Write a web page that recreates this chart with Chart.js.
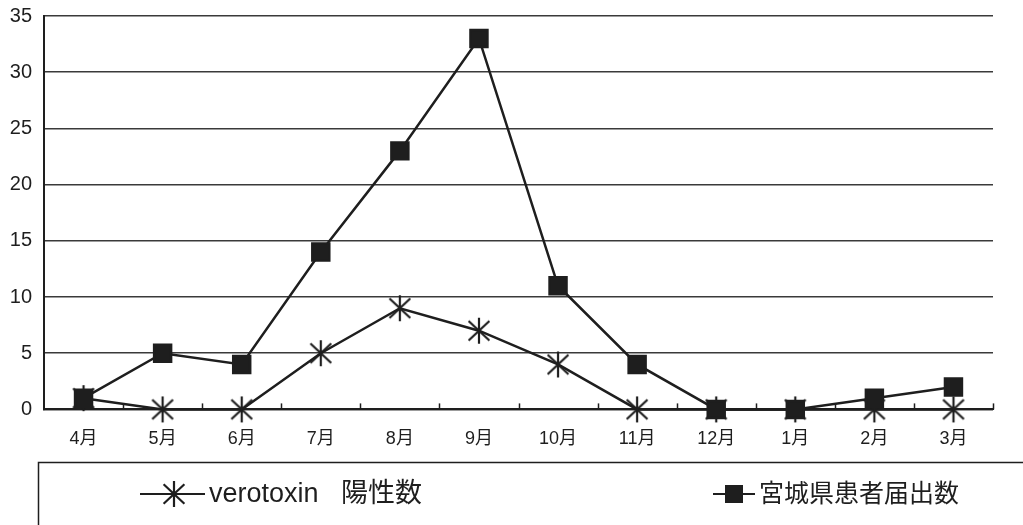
<!DOCTYPE html>
<html>
<head>
<meta charset="utf-8">
<script src="https://cdn.jsdelivr.net/npm/chart.js@4/dist/chart.umd.min.js"></script>
<style>
  html, body { margin: 0; padding: 0; background: #fff; }
  #wrap { position: relative; width: 1023px; height: 525px; }
</style>
</head>
<body>
<div id="wrap"><canvas id="chart" width="1023" height="525"></canvas></div>
<script>
const months = ["4月", "5月", "6月", "7月", "8月", "9月", "10月", "11月", "12月", "1月", "2月", "3月"];
const verotoxin = [1, 0, 0, 5, 9, 7, 4, 0, 0, 0, 0, 0];
const patients = [1, 5, 4, 14, 23, 33, 11, 4, 0, 0, 1, 2];
const seriesNames = ["verotoxin   陽性数", "宮城県患者届出数"];
const yTicks = [0, 5, 10, 15, 20, 25, 30, 35];

const ink = "#1e1e1e";
const fontFam = "'Liberation Sans', 'Noto Sans CJK JP', sans-serif";

// 6本のスポークのアスタリスク
function makeStar(size) {
    const c = document.createElement("canvas");
    c.width = size; c.height = size;
    const g = c.getContext("2d");
    const m = size / 2, r = size / 2 - 1;
    g.strokeStyle = ink;
    g.lineWidth = 2.2;
    g.beginPath();
    g.moveTo(m, m - r); g.lineTo(m, m + r);
    const dx = r * 0.8, dy = r * 0.75;
    g.moveTo(m - dx, m - dy); g.lineTo(m + dx, m + dy);
    g.moveTo(m + dx, m - dy); g.lineTo(m - dx, m + dy);
    g.stroke();
    return c;
}
const starImg = makeStar(28);

// x軸の上向き目盛りと凡例の枠
const extras = {
    id: "extras",
    afterDraw(chart) {
        const { ctx, chartArea: a } = chart;
        ctx.save();
        ctx.strokeStyle = ink;
        ctx.lineWidth = 1.5;
        const step = (a.right - a.left) / months.length;
        for (let i = 1; i <= months.length; i++) {
            const px = Math.round(a.left + step * i) + 0.5;
            ctx.beginPath();
            ctx.moveTo(px, a.bottom);
            ctx.lineTo(px, a.bottom - 6);
            ctx.stroke();
        }
        // legend box
        ctx.strokeRect(38.5, 462.5, 1000, 80);
        ctx.font = "27px " + fontFam;
        ctx.fillStyle = ink;
        ctx.textBaseline = "middle";
        const ly = 494;
        ctx.lineWidth = 2;
        ctx.beginPath(); ctx.moveTo(140, ly); ctx.lineTo(205, ly); ctx.stroke();
        ctx.drawImage(starImg, 160, ly - 14);
        ctx.fillText(seriesNames[0], 209, ly + 1);
        ctx.beginPath(); ctx.moveTo(713, ly); ctx.lineTo(755, ly); ctx.stroke();
        ctx.fillRect(725, ly - 9, 18, 18);
        ctx.font = "25px " + fontFam;
        ctx.fillText(seriesNames[1], 759, ly + 1);
        ctx.restore();
    }
};

new Chart(document.getElementById("chart"), {
    type: "line",
    data: {
        labels: months,
        datasets: [
            {
                label: seriesNames[0],
                data: verotoxin,
                borderColor: ink,
                borderWidth: 2.5,
                pointStyle: starImg,
                clip: false,
                order: 1
            },
            {
                label: seriesNames[1],
                data: patients,
                borderColor: ink,
                backgroundColor: ink,
                borderWidth: 2.5,
                pointStyle: "rect",
                pointRadius: 12,
                pointBackgroundColor: ink,
                pointBorderColor: ink,
                clip: false,
                order: 0
            }
        ]
    },
    options: {
        responsive: false,
        animation: false,
        layout: { padding: { top: 16, right: 30, bottom: 64, left: 0 } },
        plugins: { legend: { display: false }, tooltip: { enabled: false } },
        scales: {
            x: {
                offset: true,
                grid: { display: false },
                border: { color: ink, width: 2 },
                ticks: { color: ink, font: { family: fontFam, size: 18 }, padding: 11 }
            },
            y: {
                min: 0,
                max: 35,
                afterFit(s) { s.width = 44; s.paddingTop = 0; },
                afterBuildTicks(s) { s.ticks = yTicks.map(v => ({ value: v })); },
                grid: { color: "#3a3a3a", lineWidth: 1.5, drawTicks: false },
                border: { color: ink, width: 2 },
                ticks: { color: ink, font: { family: fontFam, size: 20 }, padding: 12 }
            }
        }
    },
    plugins: [extras]
});
</script>
</body>
</html>
